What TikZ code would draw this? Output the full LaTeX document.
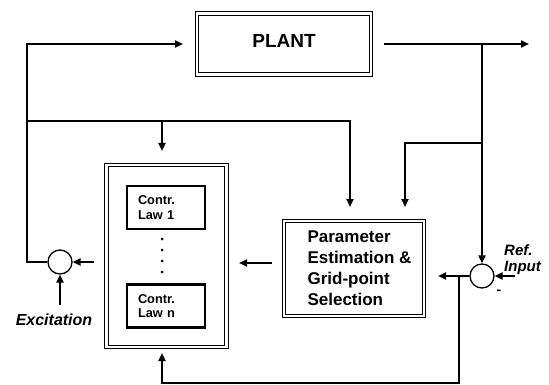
\documentclass[tikz,border=0pt]{standalone}
\usepackage{fontspec}
\setmainfont{Liberation Sans}
\usetikzlibrary{arrows.meta}
\newcommand\pind{\hspace*{11pt}}
\tikzset{
 conn/.style={line width=2.1pt},
 arr/.style={conn,-{Triangle[length=8pt,width=7pt]}},
 dblbox/.style={draw,line width=0.9pt,double,double distance=2.3pt,inner sep=0pt},
 lawbox/.style={draw,line width=2.6pt,minimum width=78pt,minimum height=43pt,align=left,text width=60pt,inner xsep=9pt,inner ysep=0pt,font=\fontsize{12.8}{14.5}\selectfont\bfseries},
 summer/.style={circle,draw,line width=1.3pt,minimum size=24pt,inner sep=0pt},
 lbl/.style={font=\fontsize{16}{18}\selectfont\bfseries\itshape,inner sep=0pt},
}
\begin{document}
\begin{tikzpicture}[x=1pt,y=-1pt]
\useasboundingbox (0,0) rectangle (549,385);
% blocks
\node[dblbox,minimum width=174.5pt,minimum height=61pt,font=\fontsize{19}{22}\selectfont\bfseries] (plant) at (284,44) {\raisebox{6pt}{PLANT}};
\node[dblbox,minimum width=120pt,minimum height=182pt] (ctrl) at (166.5,256) {};
\node[lawbox] (law1) at (166,207.5) {\raisebox{-3pt}{\parbox{58pt}{\raggedright\hspace*{2pt}Contr.\\\hspace*{2pt}Law 1}}};
\node[lawbox] (lawn) at (166,306) {\raisebox{-3pt}{\parbox{58pt}{\raggedright\hspace*{2pt}Contr.\\\hspace*{2pt}Law n}}};
\foreach \yy in {239,250,261,272} \fill (162,\yy) circle (1.5pt);
\node[dblbox,minimum width=140.5pt,minimum height=95pt,align=left,font=\fontsize{17}{21}\selectfont\bfseries] (param) at (354,268.5) {\pind Parameter\\\pind Estimation \&\\\pind Grid-point\\\pind Selection};
\node[summer] (cL) at (60,262) {};
\node[summer] (cR) at (482,276) {};
% coordinates
\coordinate (j1) at (27,121);
\coordinate (plantin) at (183,44);
\coordinate (pin1) at (350,207);
\coordinate (pin2) at (405,207);
\coordinate (ctrlin) at (162,151);
\coordinate (out) at (529,44);
\coordinate (jout) at (482,44);
\coordinate (jr) at (482,143);
\coordinate (refin) at (515,276);
\coordinate (errout) at (438,276);
\coordinate (jfb) at (459,276);
\coordinate (ctrlbot) at (162,353);
\coordinate (pout) at (272,263);
\coordinate (ctrlrin) at (239,263);
\coordinate (cLin) at (94,262);
\coordinate (excin) at (60,305);
% connectors
\draw[arr] (cL.west) -- (27,262) |- (plantin);
\draw[arr] (j1) -| (pin1);
\draw[arr] (162,121) -- (ctrlin);
\draw[arr] ([xshift=12.5pt]plant.east) -- (out);
\draw[arr] (jout) -- (cR.north);
\draw[arr] (jr) -| (pin2);
\draw[arr] (refin) -- (cR.east);
\draw[arr] (cR.west) -- (errout);
\draw[arr] (jfb) -- (459,383) -| (ctrlbot);
\draw[arr] (pout) -- (ctrlrin);
\draw[arr] (cLin) -- (cL.east);
\draw[arr] (excin) -- (cL.south);
% labels
\node[lbl] (exc) at (54,320) {Excitation};
\node[lbl,anchor=west,align=left,font=\fontsize{15}{16}\selectfont\bfseries\itshape] (ref) at (504,259.5) {Ref.\\Input};
\node[font=\fontsize{14}{14}\selectfont\bfseries,inner sep=0pt] (minus) at (499,292) {-};
\end{tikzpicture}
\end{document}
